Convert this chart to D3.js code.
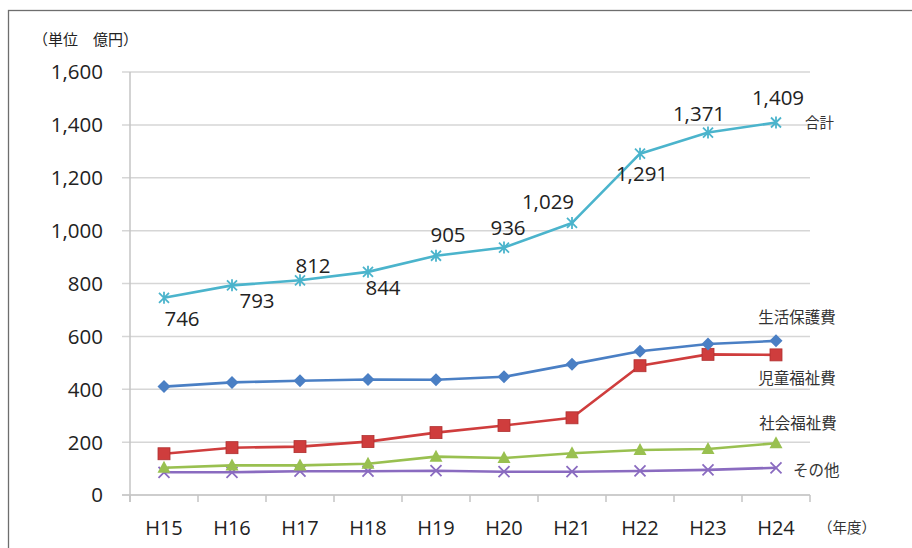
<!DOCTYPE html>
<html><head><meta charset="utf-8">
<script src="https://cdn.jsdelivr.net/npm/d3@7/dist/d3.min.js"></script>
<style>
body{margin:0;background:#fff;}
svg{display:block;}
</style></head>
<body><svg id="c" width="912" height="548"></svg>
<script>
const categories = ["H15","H16","H17","H18","H19","H20","H21","H22","H23","H24"];
const total     = [746, 793, 812, 844, 905, 936, 1029, 1291, 1371, 1409];
const seikatsu  = [410, 426, 432, 437, 436, 447, 495, 544, 571, 583];
const jido      = [156, 179, 183, 202, 236, 263, 292, 489, 532, 530];
const shakai    = [103, 112, 112, 118, 145, 140, 158, 170, 174, 196];
const sonota    = [86, 86, 90, 90, 92, 88, 88, 91, 95, 103];
const seriesNames = ["合計","生活保護費","児童福祉費","社会福祉費","その他"];
const yTicks = [0,200,400,600,800,1000,1200,1400,1600];
const unitLabel = "（単位　億円）";
const xUnitLabel = "（年度）";

// label offsets for total values (styling only)
const totalLabelOffsets = [[18,21],[25,15],[13,-15],[15,16],[12,-21],[4,-20],[-24,-21],[2,20],[-9,-19],[2,-25]];

const svg = d3.select("#c");
const m = {left:130, right:810, top:72, bottom:495};
const x = d3.scaleBand().domain(categories).range([m.left, m.right]);
const y = d3.scaleLinear().domain([0,1600]).range([m.bottom, m.top]);
const cx = d => x(d) + x.bandwidth()/2;

// frame
svg.append("rect").attr("x",8.5).attr("y",10.5).attr("width",920).attr("height",560)
  .attr("fill","none").attr("stroke","#6e6e6e").attr("stroke-width",1.3);

// gridlines
svg.append("g").selectAll("line").data(yTicks).join("line")
  .attr("x1",m.left-8).attr("x2",m.right)
  .attr("y1",d=>y(d)).attr("y2",d=>y(d))
  .attr("stroke",d=>d===0?"#bcbcbc":"#d6d6d6").attr("stroke-width",1.5);

// y axis line
svg.append("line").attr("x1",m.left).attr("x2",m.left).attr("y1",m.top).attr("y2",m.bottom+7)
  .attr("stroke","#c4c4c4").attr("stroke-width",1.5);

// x ticks at band boundaries
const bounds = categories.map(c=>x(c)).concat([m.right]);
svg.append("g").selectAll("line").data(bounds).join("line")
  .attr("x1",d=>d).attr("x2",d=>d).attr("y1",m.bottom).attr("y2",m.bottom+7)
  .attr("stroke","#c4c4c4").attr("stroke-width",1.5);

// y tick labels
svg.append("g").selectAll("text").data(yTicks).join("text")
  .attr("x",103).attr("y",d=>y(d)).attr("dy","0.36em").attr("text-anchor","end")
  .attr("font-family","'Open Sans','Noto Sans',sans-serif").attr("font-size",20.5)
  .attr("fill","#222").text(d=>d3.format(",")(d));

// x tick labels
svg.append("g").selectAll("text").data(categories).join("text")
  .attr("x",d=>cx(d)).attr("y",528).attr("dy","0.36em").attr("text-anchor","middle")
  .attr("font-family","'Liberation Sans Narrow','Open Sans',sans-serif").attr("font-size",20)
  .attr("fill","#222").text(d=>d);

// unit labels
svg.append("text").attr("x",33).attr("y",40).attr("dy","0.36em")
  .attr("font-family","'Noto Sans CJK JP',sans-serif").attr("font-size",15).attr("fill","#222").text(unitLabel);
svg.append("text").attr("x",818).attr("y",528).attr("dy","0.36em")
  .attr("font-family","'Noto Sans CJK JP',sans-serif").attr("font-size",14.5).attr("fill","#333").text(xUnitLabel);

const series = [
  {name:seriesNames[0], vals:total,    color:"#4bb4cc", marker:"star"},
  {name:seriesNames[1], vals:seikatsu, color:"#4a7fc4", marker:"diamond"},
  {name:seriesNames[2], vals:jido,     color:"#cf3d3d", marker:"square"},
  {name:seriesNames[3], vals:shakai,   color:"#99c050", marker:"triangle"},
  {name:seriesNames[4], vals:sonota,   color:"#8a6bc0", marker:"cross"}
];

const line = d3.line().x((d,i)=>cx(categories[i])).y(d=>y(d));
series.slice().reverse().forEach(s=>{
  const g = svg.append("g");
  g.append("path").attr("d",line(s.vals)).attr("fill","none")
    .attr("stroke",s.color).attr("stroke-width",2.6).attr("stroke-linejoin","round");
  const pts = g.selectAll("g").data(s.vals).join("g")
    .attr("transform",(d,i)=>`translate(${cx(categories[i])},${y(d)})`);
  if (s.marker==="diamond") {
    pts.append("path").attr("d","M0,-6.5L6.5,0L0,6.5L-6.5,0Z").attr("fill",s.color);
  } else if (s.marker==="square") {
    pts.append("rect").attr("x",-6).attr("y",-6).attr("width",12).attr("height",12)
      .attr("fill",s.color).attr("stroke","#b03030").attr("stroke-width",0.8);
  } else if (s.marker==="triangle") {
    pts.append("path").attr("d","M0,-7L6.5,5L-6.5,5Z").attr("fill",s.color);
  } else if (s.marker==="cross") {
    pts.append("path").attr("d","M-5.5,-5.5L5.5,5.5M5.5,-5.5L-5.5,5.5").attr("stroke",s.color).attr("stroke-width",1.8);
  } else if (s.marker==="star") {
    pts.append("path").attr("d","M-5,-5L5,5M5,-5L-5,5M0,-6L0,6").attr("stroke",s.color).attr("stroke-width",1.8);
  }
});

// total value labels
svg.append("g").selectAll("text").data(total).join("text")
  .attr("x",(d,i)=>cx(categories[i])+totalLabelOffsets[i][0])
  .attr("y",(d,i)=>y(d)+totalLabelOffsets[i][1]).attr("dy","0.36em")
  .attr("text-anchor","middle")
  .attr("font-family","'Open Sans','Noto Sans',sans-serif").attr("font-size",20.5)
  .attr("fill","#222").text(d=>d3.format(",")(d));

// series name labels (at right)
const nameLabelPos = [[805,123,"start"],[797,317,"middle"],[797,378,"middle"],[798,423,"middle"],[793,470,"start"]];
svg.append("g").selectAll("text").data(series).join("text")
  .attr("x",(d,i)=>nameLabelPos[i][0]).attr("y",(d,i)=>nameLabelPos[i][1]).attr("dy","0.36em")
  .attr("text-anchor",(d,i)=>nameLabelPos[i][2])
  .attr("font-family","'Noto Sans CJK JP',sans-serif").attr("font-size",(d,i)=>i===0?14.5:15.5)
  .attr("fill","#333").text(d=>d.name);
</script>
</body></html>
